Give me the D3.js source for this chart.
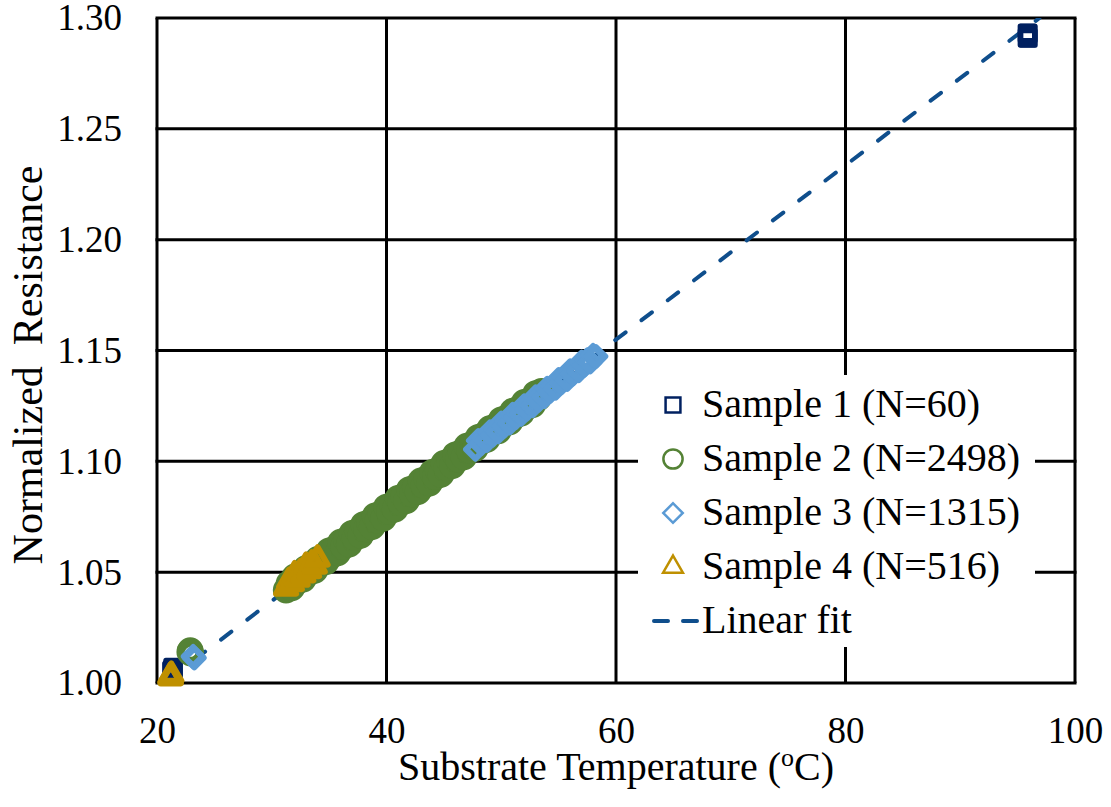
<!DOCTYPE html>
<html>
<head>
<meta charset="utf-8">
<script src="https://cdn.jsdelivr.net/npm/d3@7"></script>
<style>
  body { margin: 0; background: #fff; }
  svg text { font-family: 'Liberation Serif', 'DejaVu Serif', 'Noto Serif', Tinos, 'Times New Roman', Times, serif; fill: #000; }
</style>
</head>
<body>
<div id="chart"></div>
<script>
var serifFont = "'Liberation Serif', 'DejaVu Serif', 'Noto Serif', Tinos, 'Times New Roman', Times, serif";

// axis ticks
var xTicks = [20, 40, 60, 80, 100];
var yTicks = [1.00, 1.05, 1.10, 1.15, 1.20, 1.25, 1.30];

// series names for legend
var seriesNames = ["Sample 1 (N=60)", "Sample 2 (N=2498)", "Sample 3 (N=1315)", "Sample 4 (N=516)"];

// Sample 1: two clusters (start and 96 C)
var sample1 = [[21.30, 1.0055], [21.40, 1.0070], [21.35, 1.0060], [21.40, 1.0050],
  [95.85, 1.2931], [95.90, 1.2930], [95.85, 1.2911], [95.90, 1.2910]];

// Sample 2: small cluster + long band 31-54 C
var sample2 = [[22.85, 1.0140], [22.95, 1.0135], [22.90, 1.0146],
  [31.25, 1.0419], [31.50, 1.0449], [31.75, 1.0429],
  [32.00, 1.0479], [32.25, 1.0459], [32.50, 1.0489], [32.75, 1.0469],
  [33.00, 1.0518], [33.25, 1.0498], [33.50, 1.0528], [33.75, 1.0508],
  [34.00, 1.0558], [34.25, 1.0538], [34.50, 1.0568], [34.75, 1.0548],
  [35.00, 1.0597], [35.25, 1.0577], [35.50, 1.0607], [35.75, 1.0587],
  [36.00, 1.0636], [36.25, 1.0616], [36.50, 1.0646], [36.75, 1.0626],
  [37.00, 1.0676], [37.25, 1.0656], [37.50, 1.0686], [37.75, 1.0666],
  [38.00, 1.0715], [38.25, 1.0695], [38.50, 1.0725], [38.75, 1.0705],
  [39.00, 1.0754], [39.25, 1.0734], [39.50, 1.0764], [39.75, 1.0744],
  [40.00, 1.0794], [40.25, 1.0774], [40.50, 1.0804], [40.75, 1.0784],
  [41.00, 1.0833], [41.25, 1.0813], [41.50, 1.0843], [41.75, 1.0823],
  [42.00, 1.0873], [42.25, 1.0853], [42.50, 1.0883], [42.75, 1.0863],
  [43.00, 1.0912], [43.25, 1.0892], [43.50, 1.0922], [43.75, 1.0902],
  [44.00, 1.0951], [44.25, 1.0931], [44.50, 1.0961], [44.75, 1.0941],
  [45.00, 1.0991], [45.25, 1.0971], [45.50, 1.1001], [45.75, 1.0981],
  [46.00, 1.1030], [46.25, 1.1010], [46.50, 1.1040], [46.75, 1.1020],
  [47.00, 1.1069], [47.25, 1.1049], [47.50, 1.1079], [47.75, 1.1059],
  [48.00, 1.1109], [48.25, 1.1089], [48.50, 1.1119], [48.75, 1.1099],
  [49.00, 1.1148], [49.25, 1.1128], [49.50, 1.1158], [49.75, 1.1138],
  [50.00, 1.1188], [50.25, 1.1168], [50.50, 1.1198], [50.75, 1.1178],
  [51.00, 1.1227], [51.25, 1.1207], [51.50, 1.1237], [51.75, 1.1217],
  [52.00, 1.1266], [52.25, 1.1246], [52.50, 1.1276], [52.75, 1.1256],
  [53.00, 1.1306], [53.25, 1.1286], [53.50, 1.1316]];

// Sample 3: small cluster + band 48-58 C
var sample3 = [[23.15, 1.0120], [23.25, 1.0113],
  [47.75, 1.1054],
  [48.00, 1.1094], [48.25, 1.1079], [48.50, 1.1104], [48.75, 1.1094],
  [49.00, 1.1133], [49.25, 1.1118], [49.50, 1.1143], [49.75, 1.1133],
  [50.00, 1.1173], [50.25, 1.1158], [50.50, 1.1183], [50.75, 1.1173],
  [51.00, 1.1212], [51.25, 1.1197], [51.50, 1.1222], [51.75, 1.1212],
  [52.00, 1.1251], [52.25, 1.1236], [52.50, 1.1261], [52.75, 1.1251],
  [53.00, 1.1291], [53.25, 1.1276], [53.50, 1.1301], [53.75, 1.1291],
  [54.00, 1.1330], [54.25, 1.1315], [54.50, 1.1340], [54.75, 1.1330],
  [55.00, 1.1369], [55.25, 1.1354], [55.50, 1.1379], [55.75, 1.1369],
  [56.00, 1.1409], [56.25, 1.1394], [56.50, 1.1419], [56.75, 1.1409],
  [57.00, 1.1448], [57.25, 1.1433], [57.50, 1.1458], [57.75, 1.1448],
  [58.00, 1.1478], [58.25, 1.1473]];

// Sample 4: small cluster + short band 31-34 C
var sample4 = [[21.15, 1.0030], [21.25, 1.0036], [21.20, 1.0024],
  [31.25, 1.0429], [31.50, 1.0459], [31.75, 1.0449],
  [32.00, 1.0489], [32.25, 1.0469], [32.50, 1.0499], [32.75, 1.0489],
  [33.00, 1.0528], [33.25, 1.0508], [33.50, 1.0538], [33.75, 1.0528],
  [34.00, 1.0560]];

// linear fit end points
var fitT = [21.0, 96.9];
var fitR = [1.0016, 1.3000];

var colors = ["#002060", "#548235", "#5B9BD5", "#BF9000"];
var fitColor = "#0F4E8C";

var W = 1111, H = 807;
var margin = { top: 18, right: 36, bottom: 124, left: 157 },
    width = 1075 - margin.left,
    height = 683 - margin.top;

var svg = d3.select("#chart").append("svg")
    .attr("width", W)
    .attr("height", H);

var x = d3.scaleLinear().domain([20, 100]).range([margin.left, margin.left + width]);
var y = d3.scaleLinear().domain([1.0, 1.3]).range([margin.top + height, margin.top]);

// gridlines
svg.append("g").selectAll("line")
    .data(xTicks)
  .enter().append("line")
    .attr("x1", function(d) { return x(d); })
    .attr("x2", function(d) { return x(d); })
    .attr("y1", y(1.0))
    .attr("y2", y(1.3))
    .attr("stroke", "#000")
    .attr("stroke-width", 3);

svg.append("g").selectAll("line")
    .data(yTicks)
  .enter().append("line")
    .attr("x1", x(20) - 1.5)
    .attr("x2", x(100) + 1.5)
    .attr("y1", function(d) { return y(d); })
    .attr("y2", function(d) { return y(d); })
    .attr("stroke", "#000")
    .attr("stroke-width", 3);

// axes labels
var xAxis = svg.append("g")
    .attr("transform", "translate(0," + y(1.0) + ")")
    .call(d3.axisBottom(x).tickValues(xTicks).tickSize(0).tickPadding(34).tickFormat(d3.format("d")));
xAxis.attr("font-family", null);
xAxis.select(".domain").remove();
xAxis.selectAll("text").style("font-size", "37px").style("font-family", serifFont);

var yAxis = svg.append("g")
    .attr("transform", "translate(" + x(20) + ",0)")
    .call(d3.axisLeft(y).tickValues(yTicks).tickSize(0).tickPadding(35).tickFormat(d3.format(".2f")));
yAxis.attr("font-family", null);
yAxis.select(".domain").remove();
yAxis.selectAll("text").style("font-size", "37px").style("font-family", serifFont);

// clip for the fit line
svg.append("clipPath").attr("id", "plotclip")
  .append("rect")
    .attr("x", x(20)).attr("y", y(1.3))
    .attr("width", width).attr("height", height);

// linear fit (below markers)
var fitData = fitT.map(function(t, i) { return [t, fitR[i]]; });
svg.append("path")
    .datum(fitData)
    .attr("clip-path", "url(#plotclip)")
    .attr("d", d3.line().x(function(d) { return x(d[0]); }).y(function(d) { return y(d[1]); }))
    .attr("fill", "none")
    .attr("stroke", fitColor)
    .attr("stroke-width", 4)
    .attr("stroke-linecap", "round")
    .attr("stroke-dasharray", "13,20");

// markers (thick stroke: many overlapping points in the original)
var plotShapes = [
  d3.symbol().type(d3.symbolSquare).size(210),
  d3.symbol().type(d3.symbolCircle).size(300),
  d3.symbol().type(d3.symbolSquare).size(175),
  d3.symbol().type(d3.symbolTriangle).size(175)
];
var plotStroke = [5, 7, 6, 6];
var rotations = [0, 0, 45, 0];
var allSeries = [sample1, sample2, sample3, sample4];

allSeries.forEach(function(series, i) {
  svg.append("g").selectAll("path")
      .data(series)
    .enter().append("path")
      .attr("d", plotShapes[i])
      .attr("transform", function(d) {
        return "translate(" + x(d[0]) + "," + y(d[1]) + ") rotate(" + rotations[i] + ")";
      })
      .attr("fill", "none")
      .attr("stroke", colors[i])
      .attr("stroke-width", plotStroke[i])
      .attr("stroke-linejoin", "round");
});

// legend
var legend = svg.append("g");
legend.append("rect")
    .attr("x", 638).attr("y", 375)
    .attr("width", 397).attr("height", 272)
    .attr("fill", "#fff");

var rowY = function(i) { return 405 + i * 54; };
var legendShapes = [
  d3.symbol().type(d3.symbolSquare).size(220),
  d3.symbol().type(d3.symbolCircle).size(290),
  d3.symbol().type(d3.symbolSquare).size(190),
  d3.symbol().type(d3.symbolTriangle).size(170)
];

seriesNames.forEach(function(name, i) {
  legend.append("path")
      .attr("d", legendShapes[i])
      .attr("transform", "translate(673," + rowY(i) + ") rotate(" + rotations[i] + ")")
      .attr("fill", "none")
      .attr("stroke", colors[i])
      .attr("stroke-width", 2.5);
  legend.append("text")
      .attr("x", 702)
      .attr("y", rowY(i) + 12)
      .style("font-size", "40px")
      .text(name);
});

legend.append("line")
    .attr("x1", 654).attr("x2", 697)
    .attr("y1", rowY(4)).attr("y2", rowY(4))
    .attr("stroke", fitColor)
    .attr("stroke-width", 4)
    .attr("stroke-linecap", "round")
    .attr("stroke-dasharray", "14,15");
legend.append("text")
    .attr("x", 702)
    .attr("y", rowY(4) + 12)
    .style("font-size", "40px")
    .text("Linear fit");

// axis titles
var xt = svg.append("text")
    .attr("x", (x(20) + x(100)) / 2)
    .attr("y", 780)
    .attr("text-anchor", "middle")
    .style("font-size", "40px");
xt.append("tspan").text("Substrate Temperature (");
xt.append("tspan").attr("baseline-shift", "super").style("font-size", "26px").text("o");
xt.append("tspan").text("C)");

svg.append("text")
    .attr("transform", "translate(42,365) rotate(-90)")
    .attr("text-anchor", "middle")
    .style("font-size", "42px")
    .style("white-space", "pre")
    .text("Normalized  Resistance");
</script>
</body>
</html>
